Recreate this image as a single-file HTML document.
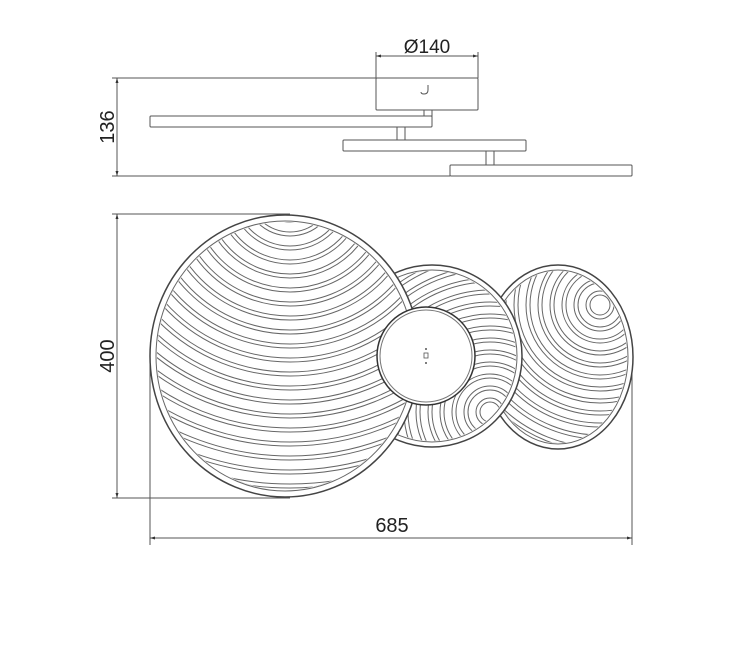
<!DOCTYPE html>
<html><head><meta charset="utf-8"><style>
html,body{margin:0;padding:0;background:#fff;}
svg{display:block;}
text{font-family:"Liberation Sans",sans-serif;fill:#222;}
</style></head><body>
<svg width="740" height="672" viewBox="0 0 740 672" xmlns="http://www.w3.org/2000/svg">
<defs>
<marker id="a" viewBox="0 0 10 10" refX="10" refY="5" markerWidth="7" markerHeight="5" orient="auto-start-reverse"><path d="M0,2 L10,5 L0,8 z" fill="#333"/></marker>
<clipPath id="cb"><ellipse cx="285" cy="356" rx="128" ry="134"/></clipPath>
<clipPath id="cm"><ellipse cx="432" cy="356" rx="84" ry="85"/></clipPath>
<clipPath id="cr"><ellipse cx="558" cy="357" rx="69" ry="86"/></clipPath>
</defs>
<g stroke="#555" fill="none" stroke-width="1">
<!-- top view dims -->
<line x1="112" y1="78" x2="376" y2="78"/>
<line x1="112" y1="176" x2="450" y2="176"/>
<line x1="117" y1="78" x2="117" y2="176" marker-start="url(#a)" marker-end="url(#a)"/>
<line x1="376" y1="52" x2="376" y2="78"/>
<line x1="478" y1="52" x2="478" y2="78"/>
<line x1="376" y1="56" x2="478" y2="56" marker-start="url(#a)" marker-end="url(#a)"/>
<rect x="376" y="78" width="102" height="32" rx="1"/>
<path d="M428,85 L428,90 Q428,94 424,94 Q421,94 421,92"/>
<rect x="424" y="110" width="8" height="6"/>
<rect x="150" y="116" width="282" height="11" rx="1"/>
<rect x="397" y="127" width="8" height="13"/>
<rect x="343" y="140" width="183" height="11" rx="1"/>
<rect x="486" y="151" width="8" height="14"/>
<rect x="450" y="165" width="182" height="11" rx="1"/>
<!-- front dims -->
<line x1="112" y1="214" x2="290" y2="214"/>
<line x1="112" y1="498" x2="290" y2="498"/>
<line x1="117" y1="214" x2="117" y2="498" marker-start="url(#a)" marker-end="url(#a)"/>
<line x1="150" y1="350" x2="150" y2="545"/>
<line x1="632" y1="357" x2="632" y2="545"/>
<line x1="150" y1="538" x2="632" y2="538" marker-start="url(#a)" marker-end="url(#a)"/>
</g>
<text x="427" y="53" font-size="19" text-anchor="middle">Ø140</text>
<text x="0" y="0" font-size="20" text-anchor="middle" transform="translate(114,127) rotate(-90)">136</text>
<text x="0" y="0" font-size="20" text-anchor="middle" transform="translate(114,356) rotate(-90)">400</text>
<text x="392" y="532" font-size="20" text-anchor="middle">685</text>

<!-- right disc -->
<ellipse cx="558" cy="357" rx="75" ry="92" fill="#fff" stroke="#444" stroke-width="1.5"/>
<ellipse cx="558" cy="357" rx="70" ry="87" fill="none" stroke="#666"/>
<g clip-path="url(#cr)" fill="none">
<g stroke="#666" stroke-width="5">
<circle cx="600" cy="305" r="12"/><circle cx="600" cy="305" r="24"/><circle cx="600" cy="305" r="36"/><circle cx="600" cy="305" r="48"/><circle cx="600" cy="305" r="60"/><circle cx="600" cy="305" r="72"/><circle cx="600" cy="305" r="84"/><circle cx="600" cy="305" r="96"/><circle cx="600" cy="305" r="108"/><circle cx="600" cy="305" r="120"/><circle cx="600" cy="305" r="132"/><circle cx="600" cy="305" r="144"/><circle cx="600" cy="305" r="156"/><circle cx="600" cy="305" r="168"/></g>
<g stroke="#fff" stroke-width="3">
<circle cx="600" cy="305" r="12"/><circle cx="600" cy="305" r="24"/><circle cx="600" cy="305" r="36"/><circle cx="600" cy="305" r="48"/><circle cx="600" cy="305" r="60"/><circle cx="600" cy="305" r="72"/><circle cx="600" cy="305" r="84"/><circle cx="600" cy="305" r="96"/><circle cx="600" cy="305" r="108"/><circle cx="600" cy="305" r="120"/><circle cx="600" cy="305" r="132"/><circle cx="600" cy="305" r="144"/><circle cx="600" cy="305" r="156"/><circle cx="600" cy="305" r="168"/></g>
</g>
<!-- middle disc -->
<ellipse cx="432" cy="356" rx="90" ry="91" fill="#fff" stroke="#444" stroke-width="1.5"/>
<ellipse cx="432" cy="356" rx="85" ry="86" fill="none" stroke="#666"/>
<g clip-path="url(#cm)" fill="none">
<g stroke="#666" stroke-width="5">
<circle cx="490" cy="412" r="12"/><circle cx="490" cy="412" r="24"/><circle cx="490" cy="412" r="36"/><circle cx="490" cy="412" r="48"/><circle cx="490" cy="412" r="60"/><circle cx="490" cy="412" r="72"/><circle cx="490" cy="412" r="84"/><circle cx="490" cy="412" r="96"/><circle cx="490" cy="412" r="108"/><circle cx="490" cy="412" r="120"/><circle cx="490" cy="412" r="132"/><circle cx="490" cy="412" r="144"/><circle cx="490" cy="412" r="156"/><circle cx="490" cy="412" r="168"/><circle cx="490" cy="412" r="180"/></g>
<g stroke="#fff" stroke-width="3">
<circle cx="490" cy="412" r="12"/><circle cx="490" cy="412" r="24"/><circle cx="490" cy="412" r="36"/><circle cx="490" cy="412" r="48"/><circle cx="490" cy="412" r="60"/><circle cx="490" cy="412" r="72"/><circle cx="490" cy="412" r="84"/><circle cx="490" cy="412" r="96"/><circle cx="490" cy="412" r="108"/><circle cx="490" cy="412" r="120"/><circle cx="490" cy="412" r="132"/><circle cx="490" cy="412" r="144"/><circle cx="490" cy="412" r="156"/><circle cx="490" cy="412" r="168"/><circle cx="490" cy="412" r="180"/></g>
</g>
<!-- big disc -->
<ellipse cx="285" cy="356" rx="135" ry="141" fill="#fff" stroke="#444" stroke-width="1.5"/>
<ellipse cx="285" cy="356" rx="129" ry="135" fill="none" stroke="#666"/>
<g clip-path="url(#cb)" fill="none">
<g stroke="#666" stroke-width="5">
<circle cx="290" cy="190" r="30"/><circle cx="290" cy="190" r="44"/><circle cx="290" cy="190" r="58"/><circle cx="290" cy="190" r="72"/><circle cx="290" cy="190" r="86"/><circle cx="290" cy="190" r="100"/><circle cx="290" cy="190" r="114"/><circle cx="290" cy="190" r="128"/><circle cx="290" cy="190" r="142"/><circle cx="290" cy="190" r="156"/><circle cx="290" cy="190" r="170"/><circle cx="290" cy="190" r="184"/><circle cx="290" cy="190" r="198"/><circle cx="290" cy="190" r="212"/><circle cx="290" cy="190" r="226"/><circle cx="290" cy="190" r="240"/><circle cx="290" cy="190" r="254"/><circle cx="290" cy="190" r="268"/><circle cx="290" cy="190" r="282"/><circle cx="290" cy="190" r="296"/><circle cx="290" cy="190" r="310"/></g>
<g stroke="#fff" stroke-width="3">
<circle cx="290" cy="190" r="30"/><circle cx="290" cy="190" r="44"/><circle cx="290" cy="190" r="58"/><circle cx="290" cy="190" r="72"/><circle cx="290" cy="190" r="86"/><circle cx="290" cy="190" r="100"/><circle cx="290" cy="190" r="114"/><circle cx="290" cy="190" r="128"/><circle cx="290" cy="190" r="142"/><circle cx="290" cy="190" r="156"/><circle cx="290" cy="190" r="170"/><circle cx="290" cy="190" r="184"/><circle cx="290" cy="190" r="198"/><circle cx="290" cy="190" r="212"/><circle cx="290" cy="190" r="226"/><circle cx="290" cy="190" r="240"/><circle cx="290" cy="190" r="254"/><circle cx="290" cy="190" r="268"/><circle cx="290" cy="190" r="282"/><circle cx="290" cy="190" r="296"/><circle cx="290" cy="190" r="310"/></g>
</g>
<!-- center canopy -->
<circle cx="426" cy="356" r="49" fill="#fff" stroke="#333" stroke-width="1.5"/>
<circle cx="426" cy="356" r="46" fill="none" stroke="#777"/>
<rect x="424" y="353" width="4" height="5" fill="none" stroke="#555" stroke-width="0.8"/>
<circle cx="426" cy="349" r="1" fill="#555"/><circle cx="426" cy="363" r="1" fill="#555"/>
</svg>
</body></html>
